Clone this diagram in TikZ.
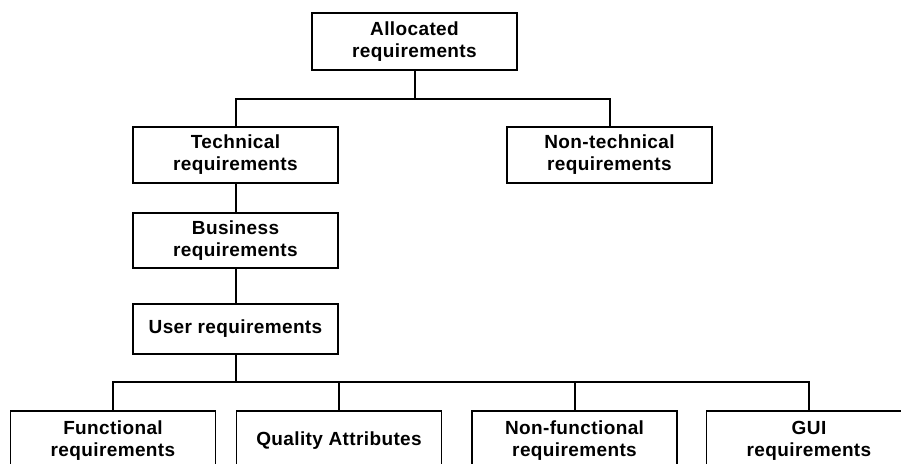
\documentclass[tikz,border=0pt]{standalone}
\usepackage{fontspec}
\setmainfont{Liberation Sans}[LetterSpace=2]
\begin{document}
\begin{tikzpicture}[x=1pt,y=-1pt,
  box/.style={draw=black,line width=1.5pt,fill=white,rectangle,align=center,
    font=\fontsize{19pt}{22pt}\selectfont\bfseries,inner sep=0pt,minimum width=205pt},
  conn/.style={draw=black,line width=2pt}]
\clip (0,0) rectangle (901,463);
\fill[white] (0,0) rectangle (901,463);
\node[box,minimum height=57pt] (alloc) at (414.5,41.5) {Allocated\\requirements};
\node[box,minimum height=56pt] (tech) at (235.5,155) {Technical\\requirements};
\node[box,minimum height=56pt] (nontech) at (609.5,155) {Non-technical\\requirements};
\node[box,minimum height=55pt] (bus) at (235.5,240.5) {Business\\requirements};
\node[box,minimum height=50pt] (user) at (235.5,329) {User requirements};
\node[box,minimum height=60pt] (f1) at (113,441) {Functional\\requirements};
\node[box,minimum height=60pt] (f2) at (339,441) {Quality Attributes};
\node[box,minimum height=60pt] (f3) at (574.5,441) {Non-functional\\requirements};
\node[box,minimum height=60pt] (f4) at (809,441) {GUI\\requirements};
\coordinate (j1) at (414.5,99);
\coordinate (j2) at (235.5,382);
\draw[conn] (alloc.south) -- (j1);
\draw[conn] (tech.north) |- (j1) -| (nontech.north);
\draw[conn] (tech.south) -- (bus.north);
\draw[conn] (bus.south) -- (user.north);
\draw[conn] (user.south) -- (j2);
\draw[conn] (f1.north) |- (j2) -| (f4.north);
\draw[conn] (f2.north) |- (j2);
\draw[conn] (f3.north) |- (j2);
\end{tikzpicture}
\end{document}
